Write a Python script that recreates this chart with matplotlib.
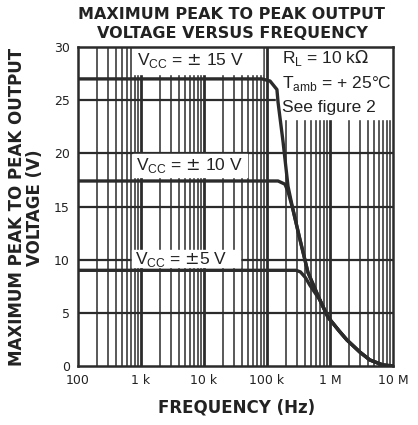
import numpy as np
import matplotlib
matplotlib.use('Agg')
from matplotlib import pyplot as plt
from matplotlib.ticker import FixedLocator, NullFormatter

# values (frequency in Hz, output in V peak-to-peak)
tail_f = [2.59e5, 3.34e5, 4.48e5, 6.94e5, 9.3e5, 1.4e6, 1.86e6, 3.0e6, 4.3e6, 6.9e6, 1e7]
tail_v = [14.7, 11.9, 8.8, 6.2, 4.6, 3.3, 2.45, 1.3, 0.57, 0.1, 0.0]

f15 = [100, 8.3e4, 1.12e5, 1.44e5, 1.5e5, 1.8e5, 2.16e5] + tail_f
v15 = [27.0, 27.0, 26.8, 26.0, 24.8, 21.1, 16.9] + tail_v

f10 = [100, 1.5e5, 1.93e5, 2.16e5] + tail_f
v10 = [17.4, 17.4, 17.1, 16.4] + tail_v

f5 = [100, 2.9e5, 3.4e5, 4.1e5, 4.8e5] + tail_f[3:]
v5 = [9.0, 9.0, 8.85, 8.3, 7.6] + tail_v[3:]

xticks = [1e2, 1e3, 1e4, 1e5, 1e6, 1e7]
xlabels = ['100', '1 k', '10 k', '100 k', '1 M', '10 M']
yticks = [0, 5, 10, 15, 20, 25, 30]

ink = '#2b2b2b'
fig = plt.figure(figsize=(4.18, 4.25), dpi=100)
ax = fig.add_axes([0.1866, 0.1388, 0.7534, 0.7506])
ax.set_xscale('log')
ax.set_xlim(1e2, 1e7)
ax.set_ylim(0, 30)

# grid like the printed graph paper
minors = [m * 10 ** d for d in range(2, 7) for m in range(2, 10)]
for x in minors:
    ax.axvline(x, color=ink, lw=1.1, zorder=1)
for x in xticks[1:-1]:
    ax.axvline(x, color=ink, lw=2.0, zorder=1)
for y in yticks[1:-1]:
    ax.axhline(y, color=ink, lw=1.6, zorder=1)

for f, v in [(f15, v15), (f10, v10), (f5, v5)]:
    ax.plot(f, v, color=ink, lw=2.4, zorder=3, solid_capstyle='round')

for s in ax.spines.values():
    s.set_color(ink)
    s.set_linewidth(1.8)
    s.set_zorder(5)

ax.xaxis.set_major_locator(FixedLocator(xticks))
ax.set_xticklabels(xlabels)
ax.xaxis.set_minor_formatter(NullFormatter())
ax.set_yticks(yticks)
ax.tick_params(which='both', length=0, labelsize=9, colors='#222222', pad=6)

# white patches that blank the grid behind the labels
ax.fill_between([750, 8.3e4], 27.45, 30, color='white', zorder=2)
ax.fill_between([750, 4.8e4], 17.75, 19.9, color='white', zorder=2)
ax.fill_between([730, 3.8e4], 9.3, 10.9, color='white', zorder=2)
ax.fill_between([1.39e5, 1e7], 23.2, 30, color='white', zorder=2)

lab = dict(fontsize=12.5, color='#222222', family='Liberation Sans', zorder=4, va='center')
ax.text(870, 28.75, r'V$_{\mathregular{CC}}$ = $\pm$ 15 V', **lab)
ax.text(830, 18.9, r'V$_{\mathregular{CC}}$ = $\pm$ 10 V', **lab)
ax.text(800, 10.0, r'V$_{\mathregular{CC}}$ = $\pm$5 V', **lab)

ax.text(1.75e5, 29.0, r'R$_{\mathregular{L}}$ = 10 k$\Omega$', **lab)
ax.text(1.75e5, 26.6, r'T$_{\mathregular{amb}}$ = + 25°C', **lab)
ax.text(1.75e5, 24.3, 'See figure 2', **lab)

fig.text(0.555, 0.965, 'MAXIMUM PEAK TO PEAK OUTPUT', ha='center', va='center',
         fontsize=11.5, fontweight='bold', color='#222222')
fig.text(0.555, 0.922, 'VOLTAGE VERSUS FREQUENCY', ha='center', va='center',
         fontsize=11.5, fontweight='bold', color='#222222')
fig.text(0.062, 0.512, 'MAXIMUM PEAK TO PEAK OUTPUT\nVOLTAGE (V)', rotation=90,
         ha='center', va='center', fontsize=12, fontweight='bold', color='#222222',
         linespacing=0.95)
fig.text(0.567, 0.042, 'FREQUENCY (Hz)', ha='center', va='center',
         fontsize=12, fontweight='bold', color='#222222')

fig.savefig('out.png', dpi=100)
